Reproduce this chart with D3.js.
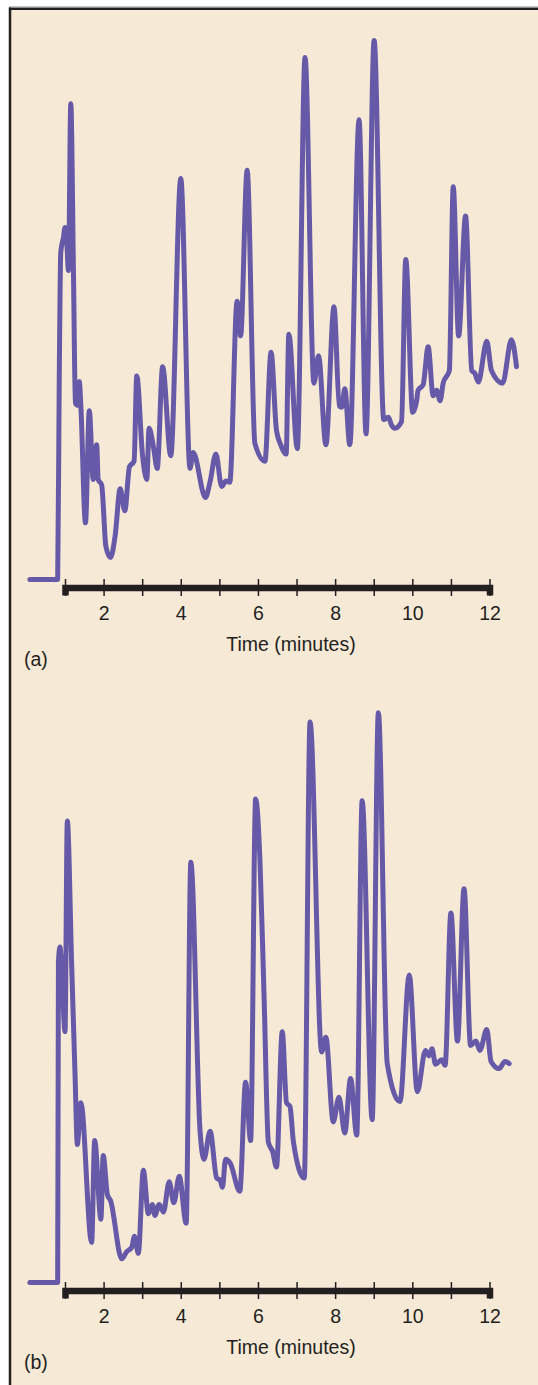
<!DOCTYPE html>
<html>
<head>
<meta charset="utf-8">
<script src="https://cdn.jsdelivr.net/npm/d3@7"></script>
<style>
  body { margin: 0; background: #fff; }
  svg { display: block; }
</style>
</head>
<body>
<div id="chart"></div>
<script>
// retention time (minutes) and detector signal
const timeA = [0.09, 0.81, 0.85, 0.89, 0.96, 1.0, 1.04, 1.09, 1.15, 1.22, 1.27, 1.32, 1.37, 1.41, 1.53, 1.63,
  1.73, 1.82, 1.86, 1.95, 2.06, 2.18, 2.3, 2.43, 2.55, 2.67, 2.79, 2.86, 3.01, 3.12, 3.18, 3.29, 3.39, 3.53,
  3.74, 4.0, 4.24, 4.32, 4.64, 4.76, 4.91, 5.06, 5.17, 5.27, 5.46, 5.55, 5.72, 5.92, 6.18, 6.34, 6.48, 6.59,
  6.73, 6.8, 7.02, 7.22, 7.45, 7.57, 7.76, 7.97, 8.11, 8.17, 8.25, 8.38, 8.62, 8.8, 9.01, 9.26, 9.38, 9.46,
  9.55, 9.72, 9.83, 10.01, 10.11, 10.15, 10.28, 10.41, 10.54, 10.63, 10.72, 10.8, 10.96, 11.06, 11.2, 11.38,
  11.54, 11.62, 11.71, 11.93, 12.05, 12.34, 12.57, 12.7];
const signalA = [0, 0, 35.7, 59.5, 62.2, 64.0, 62.1, 56.2, 86.5, 55.5, 32.1, 31.7, 36.0, 31.7, 10.3, 30.7,
  18.2, 24.5, 18.2, 17.2, 6.0, 4.0, 8.0, 16.5, 12.5, 20.5, 21.5, 37.0, 22.5, 18.2, 27.5, 24.2, 20.2, 38.7,
  22.5, 72.9, 20.2, 23.1, 14.9, 17.8, 22.8, 16.9, 17.9, 17.7, 50.6, 44.3, 74.4, 24.8, 21.5, 41.3, 27.1, 24.5,
  22.8, 44.6, 23.8, 94.9, 35.7, 40.7, 24.5, 49.6, 31.5, 31.3, 34.7, 24.5, 83.6, 26.5, 98.0, 29.1, 29.5, 28.1,
  27.5, 28.7, 58.2, 30.4, 32.4, 34.4, 35.4, 42.3, 33.4, 34.4, 32.5, 35.7, 38.0, 71.4, 44.3, 66.1,
  38.0, 37.5, 35.9, 43.3, 38.0, 35.7, 43.6, 38.7];

const timeB = [0.09, 0.81, 0.83, 0.87, 0.93, 1.0, 1.06, 1.17, 1.26, 1.32, 1.41, 1.69, 1.77, 1.93, 1.99, 2.1,
  2.18, 2.47, 2.6, 2.73, 2.8, 2.9, 3.03, 3.16, 3.26, 3.33, 3.44, 3.55, 3.7, 3.82, 3.96, 4.14, 4.26, 4.5, 4.6,
  4.76, 4.93, 5.02, 5.08, 5.16, 5.28, 5.53, 5.68, 5.81, 5.94, 6.05, 6.16, 6.27, 6.38, 6.48, 6.63, 6.74, 6.83,
  6.92, 7.2, 7.35, 7.65, 7.76, 7.95, 8.1, 8.25, 8.4, 8.56, 8.7, 8.96, 9.12, 9.35, 9.68, 9.92, 10.13, 10.34,
  10.43, 10.51, 10.6, 10.76, 10.85, 11.0, 11.17, 11.34, 11.51, 11.65, 11.75, 11.93, 12.04, 12.25, 12.4, 12.51];
const signalB = [0, 0, 58.3, 61.0, 54.2, 45.6, 83.9, 58.4, 37.8, 25.1, 32.7, 7.3, 25.8, 11.5, 23.1, 15.9,
  14.9, 4.3, 5.6, 6.4, 8.4, 5.3, 20.4, 12.5, 14.2, 12.2, 14.2, 12.8, 18.3, 14.5, 19.3, 10.8, 76.4, 27.5, 22.4,
  27.5, 19.0, 18.6, 17.3, 22.4, 21.7, 16.6, 36.4, 25.8, 87.9, 77.1, 51.6, 25.5, 23.8, 21.0, 45.6, 32.7, 32.0,
  25.5, 19.0, 101.9, 41.9, 44.6, 29.2, 33.7, 27.2, 37.1, 26.8, 87.6, 29.6, 103.6, 39.8, 32.9, 55.9, 34.7, 42.2,
  41.2, 42.5, 39.7, 40.5, 39.5, 67.2, 43.9, 71.6, 43.1, 43.9, 42.2, 46.0, 40.2, 38.9, 40.2, 39.8];

const tickValues = [1, 2, 3, 4, 5, 6, 7, 8, 9, 10, 11, 12];
const panelLabels = ["(a)", "(b)"];
const axisTitle = "Time (minutes)";

const W = 538, H = 1385;
const ink = "#231f20";
const lineColor = "#665aa8";
const fontFamily = "'Liberation Sans', Arial, sans-serif";

const svg = d3.select("#chart").append("svg")
  .attr("width", W)
  .attr("height", H);

// page + frame
svg.append("rect").attr("width", W).attr("height", H).attr("fill", "#fff");
svg.append("rect").attr("x", 10).attr("y", 9).attr("width", W - 10).attr("height", H - 9)
  .attr("fill", "#f6e9d6");
svg.append("line").attr("x1", 9).attr("x2", W).attr("y1", 6.5).attr("y2", 6.5)
  .attr("stroke", "#c8c4c0").attr("stroke-width", 1);
svg.append("line").attr("x1", 9).attr("x2", W).attr("y1", 8.8).attr("y2", 8.8)
  .attr("stroke", ink).attr("stroke-width", 2.5);
svg.append("line").attr("x1", 10).attr("x2", 10).attr("y1", 7.5).attr("y2", H)
  .attr("stroke", ink).attr("stroke-width", 2.5);

const x = d3.scaleLinear().domain([1, 12]).range([65, 489.5]);
const y = d3.scaleLinear().domain([0, 100]).range([579.5, 29.5]);

const line = d3.line()
  .x(function (d) { return x(d[0]); })
  .y(function (d) { return y(d[1]); })
  .curve(d3.curveMonotoneX);

const panels = [
  { times: timeA, values: signalA, offset: 0 },
  { times: timeB, values: signalB, offset: 703 },
];

panels.forEach(function (p, i) {
  const g = svg.append("g").attr("transform", `translate(0, ${p.offset})`);

  // axis bar with ticks crossing it
  const axis = d3.axisBottom(x)
    .tickValues(tickValues)
    .tickSizeOuter(0)
    .tickSize(8)
    .tickFormat(function (d) { return d % 2 === 0 ? d : ""; });

  const ag = g.append("g")
    .attr("transform", "translate(0, 587.5)")
    .call(axis);
  ag.select(".domain").attr("stroke", ink).attr("stroke-width", 6.5);
  ag.selectAll(".tick line")
    .attr("y1", -8.5).attr("y2", 8.5)
    .attr("stroke", ink).attr("stroke-width", 1.5);
  ag.selectAll(".tick text")
    .attr("y", 32).attr("dy", 0)
    .attr("fill", ink)
    .style("font-family", fontFamily)
    .style("font-size", "19.5px");

  g.append("text")
    .attr("x", 291).attr("y", 650.5)
    .attr("text-anchor", "middle")
    .attr("fill", ink)
    .style("font-family", fontFamily)
    .style("font-size", "19.5px")
    .text(axisTitle);

  g.append("text")
    .attr("x", 24).attr("y", 666)
    .attr("fill", ink)
    .style("font-family", fontFamily)
    .style("font-size", "19.5px")
    .text(panelLabels[i]);

  // chromatogram trace
  const pts = p.times.map(function (t, k) { return [t, p.values[k]]; });
  g.append("path")
    .attr("d", line(pts))
    .attr("fill", "none")
    .attr("stroke", lineColor)
    .attr("stroke-width", 5)
    .attr("stroke-linejoin", "round")
    .attr("stroke-linecap", "round");
});
</script>
</body>
</html>
